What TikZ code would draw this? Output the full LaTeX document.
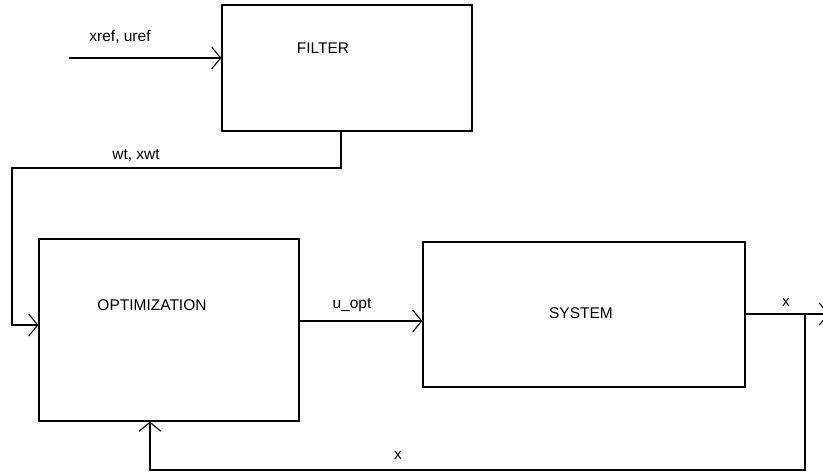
\documentclass[tikz,border=0pt]{standalone}
\usepackage{fontspec}
\setmainfont{Liberation Sans}
\usepackage{tikz}
\usetikzlibrary{arrows.meta, calc}

\begin{document}
\begin{tikzpicture}[x=1pt, y=-1pt,
    block/.style={draw, line width=1.2pt, inner sep=0pt},
    wire/.style={line width=1.2pt},
    tip/.style={-{Straight Barb[length=9pt,width=22pt,line width=1.1pt]}},
    lbl/.style={font=\fontsize{15.5}{18}\selectfont, inner sep=0pt}]

\useasboundingbox (0,0) rectangle (823,472);

% Blocks
\node[block, minimum width=250pt, minimum height=126pt] (filter) at (347,68) {};
\node[block, minimum width=260pt, minimum height=182pt] (optim) at (169,330) {};
\node[block, minimum width=322pt, minimum height=145pt] (system) at (584,314.5) {};

% Block names
\node[lbl] (filtertxt) at (323,48) {FILTER};
\node[lbl] (optimtxt) at (152,305) {OPTIMIZATION};
\node[lbl] (systemtxt) at (581,313) {SYSTEM};

% Free ends and corners
\coordinate (ref) at (69,58);
\coordinate (wt) at (341,131);
\coordinate (split) at (805,314);
\coordinate (out) at (829,314);
\coordinate (fb) at (150,470);

% Reference input into the filter
\draw[wire, tip] (ref) -- (ref -| filter.west);

% Filter output down and round into the optimization
\draw[wire, tip] (wt) -- ++(0,37) -| (12,325) -- (optim.west |- 0,325);

% Optimal input into the system
\draw[wire, tip] (optim.east |- 0,321) -- (system.west |- 0,321);

% System output
\draw[wire, tip] (system.east |- split) -- (out);

% Feedback of x
\draw[wire, tip] (split) |- (fb) -- (fb |- optim.south);

% Signal labels
\node[lbl] (reflbl) at (120,37) {xref, uref};
\node[lbl] (wtlbl) at (136,155) {wt, xwt};
\node[lbl] (ulbl) at (352,305) {u\_opt};
\node[lbl] (xlbl) at (786,302) {x};
\node[lbl] (fblbl) at (398,455) {x};

\end{tikzpicture}
\end{document}
